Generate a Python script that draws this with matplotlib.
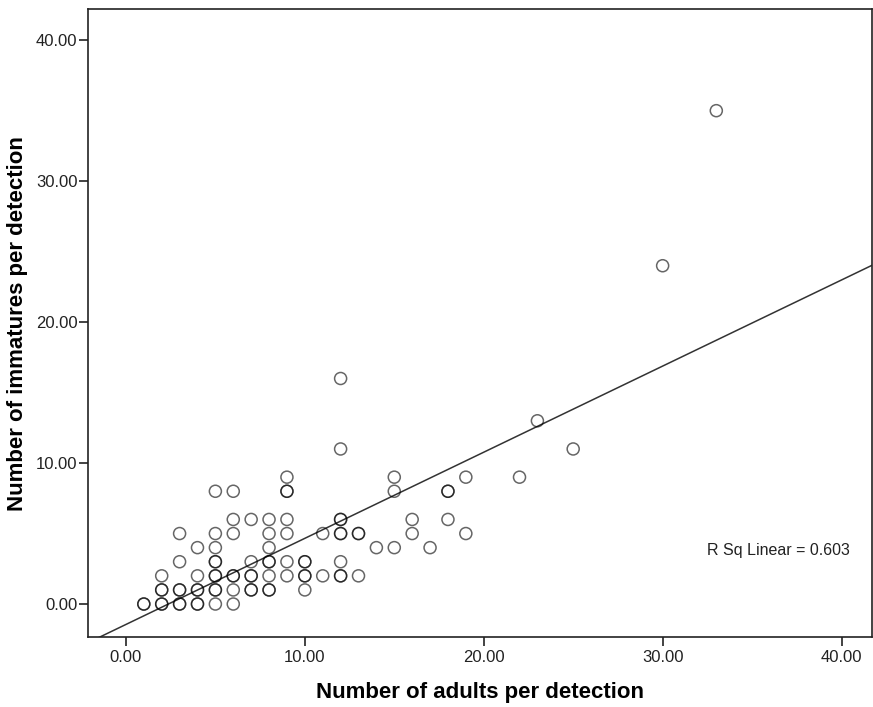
import matplotlib.pyplot as plt

plt.rcParams["font.family"] = ["Liberation Sans", "DejaVu Sans"]

# scatter points (adults, immatures); repeated pairs = overlapping detections
adults = [
    1, 1, 2, 2, 3, 3, 4, 4, 5, 6,
    2, 2, 3, 3, 4, 4, 5, 5, 6, 7, 7, 8, 8, 10,
    2, 4, 5, 5, 6, 6, 7, 7, 8, 9, 10, 10, 11, 12, 12, 13,
    3, 5, 5, 7, 8, 8, 9, 10, 10, 12,
    4, 5, 8, 14, 15, 17,
    3, 5, 6, 8, 9, 11, 12, 12, 13, 13, 16, 19,
    6, 7, 8, 9, 12, 12, 16, 18,
    5, 6, 9, 9, 15, 18, 18,
    9, 15, 19, 22,
    12, 25, 23, 12, 30, 33,
]
immatures = [
    0, 0, 0, 0, 0, 0, 0, 0, 0, 0,
    1, 1, 1, 1, 1, 1, 1, 1, 1, 1, 1, 1, 1, 1,
    2, 2, 2, 2, 2, 2, 2, 2, 2, 2, 2, 2, 2, 2, 2, 2,
    3, 3, 3, 3, 3, 3, 3, 3, 3, 3,
    4, 4, 4, 4, 4, 4,
    5, 5, 5, 5, 5, 5, 5, 5, 5, 5, 5, 5,
    6, 6, 6, 6, 6, 6, 6, 6,
    8, 8, 8, 8, 8, 8, 8,
    9, 9, 9, 9,
    11, 11, 13, 16, 24, 35,
]

# fit line
slope = 0.611
intercept = -1.45
r_sq = 0.603

x_ticks = [0, 10, 20, 30, 40]
y_ticks = [0, 10, 20, 30, 40]

fig = plt.figure(figsize=(8.73, 7.07), dpi=100)
ax = fig.add_axes([0.1008, 0.099, 0.898, 0.888])

ax.scatter(adults, immatures, s=75, facecolors="none", edgecolors="black",
           linewidths=1.1, alpha=0.6, zorder=3)

xmin, xmax = -2.12, 41.7
ymin, ymax = -2.34, 42.2
ax.plot([xmin, xmax], [intercept + slope * xmin, intercept + slope * xmax],
        color="#333333", linewidth=1.1, zorder=2)

ax.set_xlim(xmin, xmax)
ax.set_ylim(ymin, ymax)
ax.set_xticks(x_ticks)
ax.set_yticks(y_ticks)
ax.set_xticklabels([f"{v:.2f}" for v in x_ticks])
ax.set_yticklabels([f"{v:.2f}" for v in y_ticks])
ax.tick_params(direction="out", length=6.5, width=1.2, colors="#222222",
               labelsize=12)
ax.tick_params(axis="x", pad=3)
ax.tick_params(axis="y", pad=1)
for s in ax.spines.values():
    s.set_linewidth(1.2)
    s.set_color("#222222")

ax.set_xlabel("Number of adults per detection", fontsize=16, fontweight="bold",
              labelpad=12)
ax.set_ylabel("Number of immatures per detection", fontsize=16,
              fontweight="bold", labelpad=6)

ax.text(0.79, 0.137, f"R Sq Linear = {r_sq:.3f}", transform=ax.transAxes,
        fontsize=11.5, color="#222222", va="center")

fig.savefig("out.png", dpi=100)
